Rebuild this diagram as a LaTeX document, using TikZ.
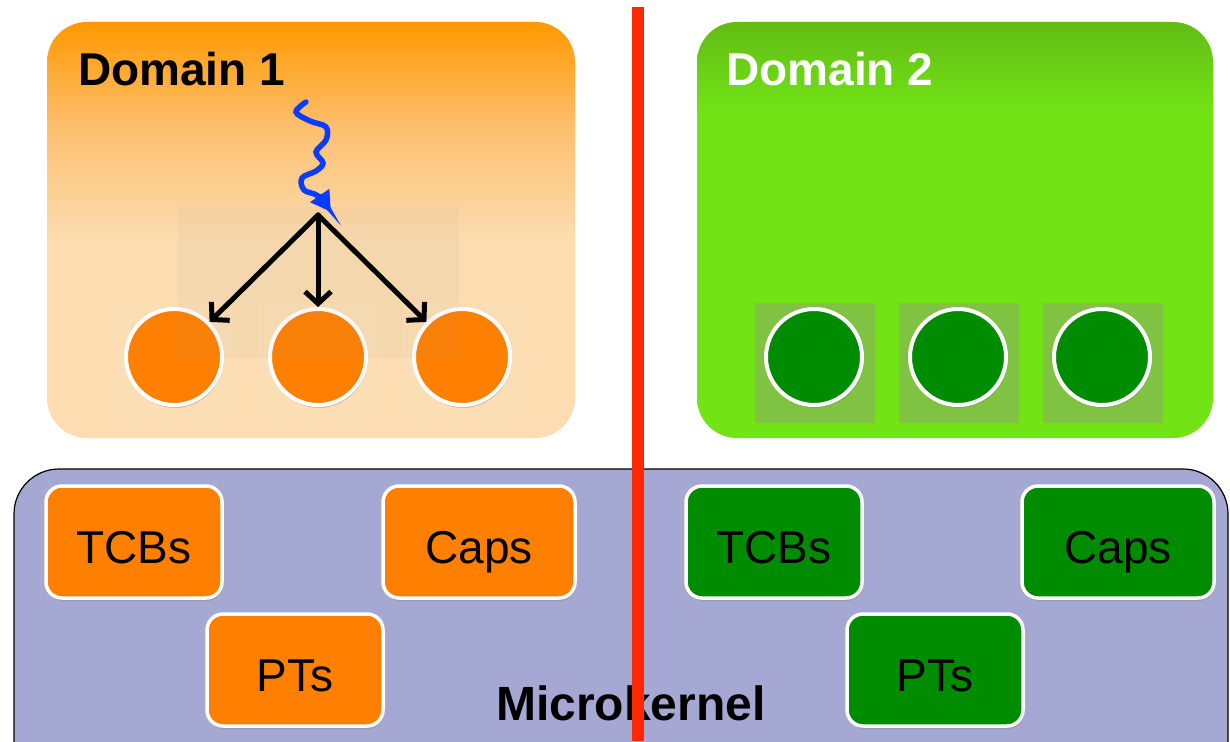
\documentclass[tikz,border=0pt]{standalone}
\usepackage{fontspec}
\setmainfont{Liberation Sans}
\usetikzlibrary{arrows.meta,shadows}
\definecolor{domorange}{RGB}{255,153,0}
\definecolor{midpeach}{RGB}{253,192,112}
\definecolor{peach}{RGB}{252,220,176}
\definecolor{domgreen}{RGB}{114,228,22}
\definecolor{domgreentop}{RGB}{98,188,20}
\definecolor{throrange}{RGB}{255,128,0}
\definecolor{thrgreen}{RGB}{0,140,0}
\definecolor{tilegreen}{RGB}{128,194,66}
\definecolor{kernelblue}{RGB}{166,168,212}
\definecolor{sepred}{RGB}{255,40,0}
\definecolor{waveblue}{RGB}{10,60,255}
\pgfdeclareverticalshading{domoneshade}{100bp}{color(0bp)=(peach); color(49bp)=(peach); color(62bp)=(midpeach); color(75bp)=(domorange); color(100bp)=(domorange)}
\pgfdeclareverticalshading{domtwoshade}{100bp}{color(0bp)=(domgreen); color(64bp)=(domgreen); color(75bp)=(domgreentop); color(100bp)=(domgreentop)}
\tikzset{
  dombox/.style ={rounded corners=40pt, minimum height=416pt, inner sep=0pt},
  domlbl/.style ={font=\bfseries\fontsize{46}{50}\selectfont, anchor=base west, inner sep=0pt},
  thr/.style    ={circle, draw=white, line width=4pt, minimum size=96pt, inner sep=0pt,
                  drop shadow={shadow xshift=1pt, shadow yshift=-3pt, opacity=0.35}},
  tile/.style   ={minimum size=120pt, inner sep=0pt},
  kobj/.style   ={draw=white, line width=3.5pt, rounded corners=16pt, minimum width=176pt,
                  minimum height=112pt, text height=42pt, text depth=0pt,
                  font=\fontsize{46}{50}\selectfont,
                  drop shadow={shadow xshift=1pt, shadow yshift=-3pt, opacity=0.35}},
  kernel/.style ={draw=black, line width=1.2pt, fill=kernelblue, rounded corners=45pt,
                  minimum width=1214pt, minimum height=330pt, inner sep=0pt},
  fan/.style    ={-{Straight Barb[length=12pt,width=26pt]}, line width=5pt, line cap=round},
  wave/.style   ={-{Triangle[length=20pt,width=22pt]}, draw=waveblue, line width=5.5pt, line cap=round},
  sepline/.style={draw=sepred, line width=12pt},
}
\begin{document}
\begin{tikzpicture}[x=1pt,y=-1pt]
\clip (0,0) rectangle (1230,741);
\fill[white] (0,0) rectangle (1230,741);
% protection domains
\node[dombox,shading=domoneshade,minimum width=528pt] (dom1) at (311,230) {};
\node[dombox,shading=domtwoshade,minimum width=516pt] (dom2) at (955,230) {};
\node[domlbl] (dom1lbl) at (78,86) {Domain 1};
\node[domlbl,text=white] (dom2lbl) at (726,86) {Domain 2};
% faint tiles behind the threads
\foreach \x [count=\i] in {174,318,462}
  \node[tile,fill=white,fill opacity=0.06] (ot\i) at (\x,363) {};
\foreach \x [count=\i] in {815,959,1103}
  \node[tile,fill=tilegreen] (gt\i) at (\x,363) {};
% threads
\foreach \x [count=\i] in {174,318,462}
  \node[thr,fill=throrange] (o\i) at (\x,357) {};
\foreach \x [count=\i] in {814,958,1102}
  \node[thr,fill=thrgreen] (g\i) at (\x,357) {};
\fill[black!45,opacity=0.06] (178,207) rectangle (459,358);
% event fan-out
\coordinate (hub) at (318,215);
\coordinate (ws) at (306,102);
\coordinate (we) at (331,212);
\draw[wave] plot[smooth,tension=0.6] coordinates {(ws) (296,112) (310,121) (326,127) (326,140) (316,152) (323,163) (316,171) (302,178) (304,190) (318,196) (we)};
\foreach \i in {1,2,3}
  \draw[fan] (hub) -- (o\i);
% microkernel
\node[kernel] (mk) at (621,634) {};
\node[kobj,fill=throrange] (tcb1) at (134,542) {TCBs};
\node[kobj,fill=throrange,minimum width=192pt] (caps1) at (479,542) {Caps};
\node[kobj,fill=throrange] (pts1) at (295,670) {PTs};
\node[kobj,fill=thrgreen] (tcb2) at (774,542) {TCBs};
\node[kobj,fill=thrgreen,minimum width=192pt] (caps2) at (1118,542) {Caps};
\node[kobj,fill=thrgreen] (pts2) at (935,670) {PTs};
\node[font=\bfseries\fontsize{48}{52}\selectfont,anchor=base,inner sep=0pt] (mklbl) at (631,720) {Microkernel};
% isolation boundary
\coordinate (septop) at (638,7);
\coordinate (sepbot) at (638,741);
\draw[sepline] (septop) -- (sepbot);
\end{tikzpicture}
\end{document}
